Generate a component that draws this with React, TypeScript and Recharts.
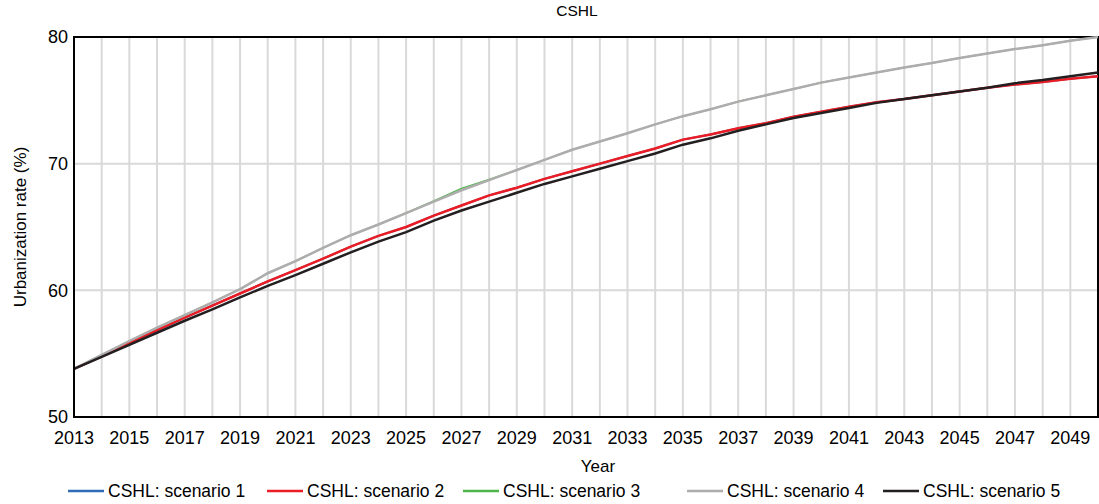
import { LineChart, Line, XAxis, YAxis, CartesianGrid, ReferenceArea } from "recharts";

const years = [
  2013, 2014, 2015, 2016, 2017, 2018, 2019, 2020, 2021, 2022, 2023, 2024, 2025,
  2026, 2027, 2028, 2029, 2030, 2031, 2032, 2033, 2034, 2035, 2036, 2037, 2038,
  2039, 2040, 2041, 2042, 2043, 2044, 2045, 2046, 2047, 2048, 2049, 2050,
];
const yTicks = [50, 60, 70, 80];

const scenario1 = [
  53.8, 54.8, 55.85, 56.85, 57.85, 58.8, 59.75, 60.7, 61.6, 62.5, 63.45, 64.3, 65.0,
  65.9, 66.7, 67.5, 68.1, 68.8, 69.4, 70.0, 70.6, 71.2, 71.9, 72.3, 72.8, 73.2,
  73.7, 74.1, 74.5, 74.85, 75.1, 75.4, 75.7, 76.0, 76.25, 76.45, 76.7, 76.9,
];
const scenario2 = [
  53.8, 54.8, 55.85, 56.85, 57.85, 58.8, 59.75, 60.7, 61.6, 62.5, 63.45, 64.3, 65.0,
  65.9, 66.7, 67.5, 68.1, 68.8, 69.4, 70.0, 70.6, 71.2, 71.9, 72.3, 72.8, 73.2,
  73.7, 74.1, 74.5, 74.85, 75.1, 75.4, 75.7, 76.0, 76.25, 76.45, 76.7, 76.9,
];
const scenario3 = [
  53.8, 54.9, 56.0, 57.05, 58.05, 59.05, 60.1, 61.35, 62.3, 63.35, 64.35, 65.2, 66.1,
  67.05, 68.05, 68.75, 69.5, 70.3, 71.1, 71.75, 72.4, 73.1, 73.75, 74.3, 74.9, 75.4,
  75.9, 76.4, 76.8, 77.2, 77.6, 77.95, 78.35, 78.7, 79.05, 79.35, 79.7, 80.0,
];
const scenario4 = [
  53.8, 54.9, 56.0, 57.05, 58.05, 59.05, 60.1, 61.35, 62.3, 63.35, 64.35, 65.2, 66.1,
  67.0, 67.9, 68.7, 69.5, 70.3, 71.1, 71.75, 72.4, 73.1, 73.75, 74.3, 74.9, 75.4,
  75.9, 76.4, 76.8, 77.2, 77.6, 77.95, 78.35, 78.7, 79.05, 79.35, 79.7, 80.0,
];
const scenario5 = [
  53.8, 54.75, 55.7, 56.65, 57.6, 58.5, 59.45, 60.35, 61.2, 62.1, 63.0, 63.85, 64.6,
  65.5, 66.3, 67.0, 67.7, 68.4, 69.0, 69.6, 70.2, 70.8, 71.5, 72.0, 72.6, 73.1,
  73.6, 74.0, 74.4, 74.8, 75.1, 75.4, 75.7, 76.0, 76.35, 76.6, 76.9, 77.2,
];

const series = [
  { key: "s1", name: "CSHL: scenario 1", color: "#2e6cb8", width: 2, values: scenario1 },
  { key: "s2", name: "CSHL: scenario 2", color: "#ec1c24", width: 2.5, values: scenario2 },
  { key: "s3", name: "CSHL: scenario 3", color: "#4cb748", width: 1.5, values: scenario3 },
  { key: "s4", name: "CSHL: scenario 4", color: "#aeacac", width: 2.5, values: scenario4 },
  { key: "s5", name: "CSHL: scenario 5", color: "#231f20", width: 2.5, values: scenario5 },
];

const data = years.map((year, i) => {
  const row: Record<string, number> = { year };
  series.forEach((s) => (row[s.key] = s.values[i]));
  return row;
});

const font = '"Liberation Sans", Arial, sans-serif';
const legendLeft = [68, 267, 463, 687, 883];

export default function App() {
  return (
    <div style={{ position: "absolute", left: 0, top: 0, width: 1099, height: 504, fontFamily: font, background: "#fff" }}>
      <div style={{ position: "absolute", left: 577, top: 2, transform: "translateX(-50%)", fontSize: 15.5, color: "#000" }}>
        CSHL
      </div>
      <LineChart width={1099} height={504} data={data} margin={{ top: 37, right: 1, bottom: 0, left: 0 }}>
        <CartesianGrid stroke="#d9d9d9" strokeWidth={2} />
        <XAxis
          dataKey="year"
          type="number"
          domain={[2013, 2050]}
          ticks={years}
          interval={0}
          height={87}
          tickLine={false}
          tickMargin={8}
          axisLine={{ stroke: "#000", strokeWidth: 2 }}
          tick={{ fill: "#000", fontSize: 18, fontFamily: font }}
          tickFormatter={(v: number) => (v % 2 === 1 ? String(v) : "")}
          label={{
            content: () => (
              <text x={598} y={466} textAnchor="middle" dominantBaseline="central" fontSize={17} fontFamily={font} fill="#000">
                Year
              </text>
            ),
          }}
        />
        <YAxis
          type="number"
          domain={[50, 80]}
          ticks={yTicks}
          width={74}
          tickLine={false}
          tickMargin={0}
          axisLine={{ stroke: "#000", strokeWidth: 2 }}
          tick={{ fill: "#000", fontSize: 18, fontFamily: font }}
          label={{
            content: () => (
              <text
                transform="translate(20,227) rotate(-90)"
                textAnchor="middle"
                dominantBaseline="central"
                fontSize={17}
                fontFamily={font}
                fill="#000"
              >
                Urbanization rate (%)
              </text>
            ),
          }}
        />
        {series.map((s) => (
          <Line
            key={s.key}
            type="linear"
            dataKey={s.key}
            name={s.name}
            stroke={s.color}
            strokeWidth={s.width}
            dot={false}
            activeDot={false}
            isAnimationActive={false}
          />
        ))}
        <ReferenceArea x1={2013} x2={2050} y1={50} y2={80} fill="none" stroke="#000" strokeWidth={2} />
      </LineChart>
      {series.map((s, i) => (
        <div
          key={s.key}
          style={{ position: "absolute", left: legendLeft[i], top: 480, height: 22, display: "flex", alignItems: "center", fontSize: 17.5, color: "#000", whiteSpace: "nowrap" }}
        >
          <svg width={36} height={4} style={{ marginRight: 4 }}>
            <line x1={0} y1={2} x2={36} y2={2} stroke={s.color} strokeWidth={2.5} />
          </svg>
          {s.name}
        </div>
      ))}
    </div>
  );
}
